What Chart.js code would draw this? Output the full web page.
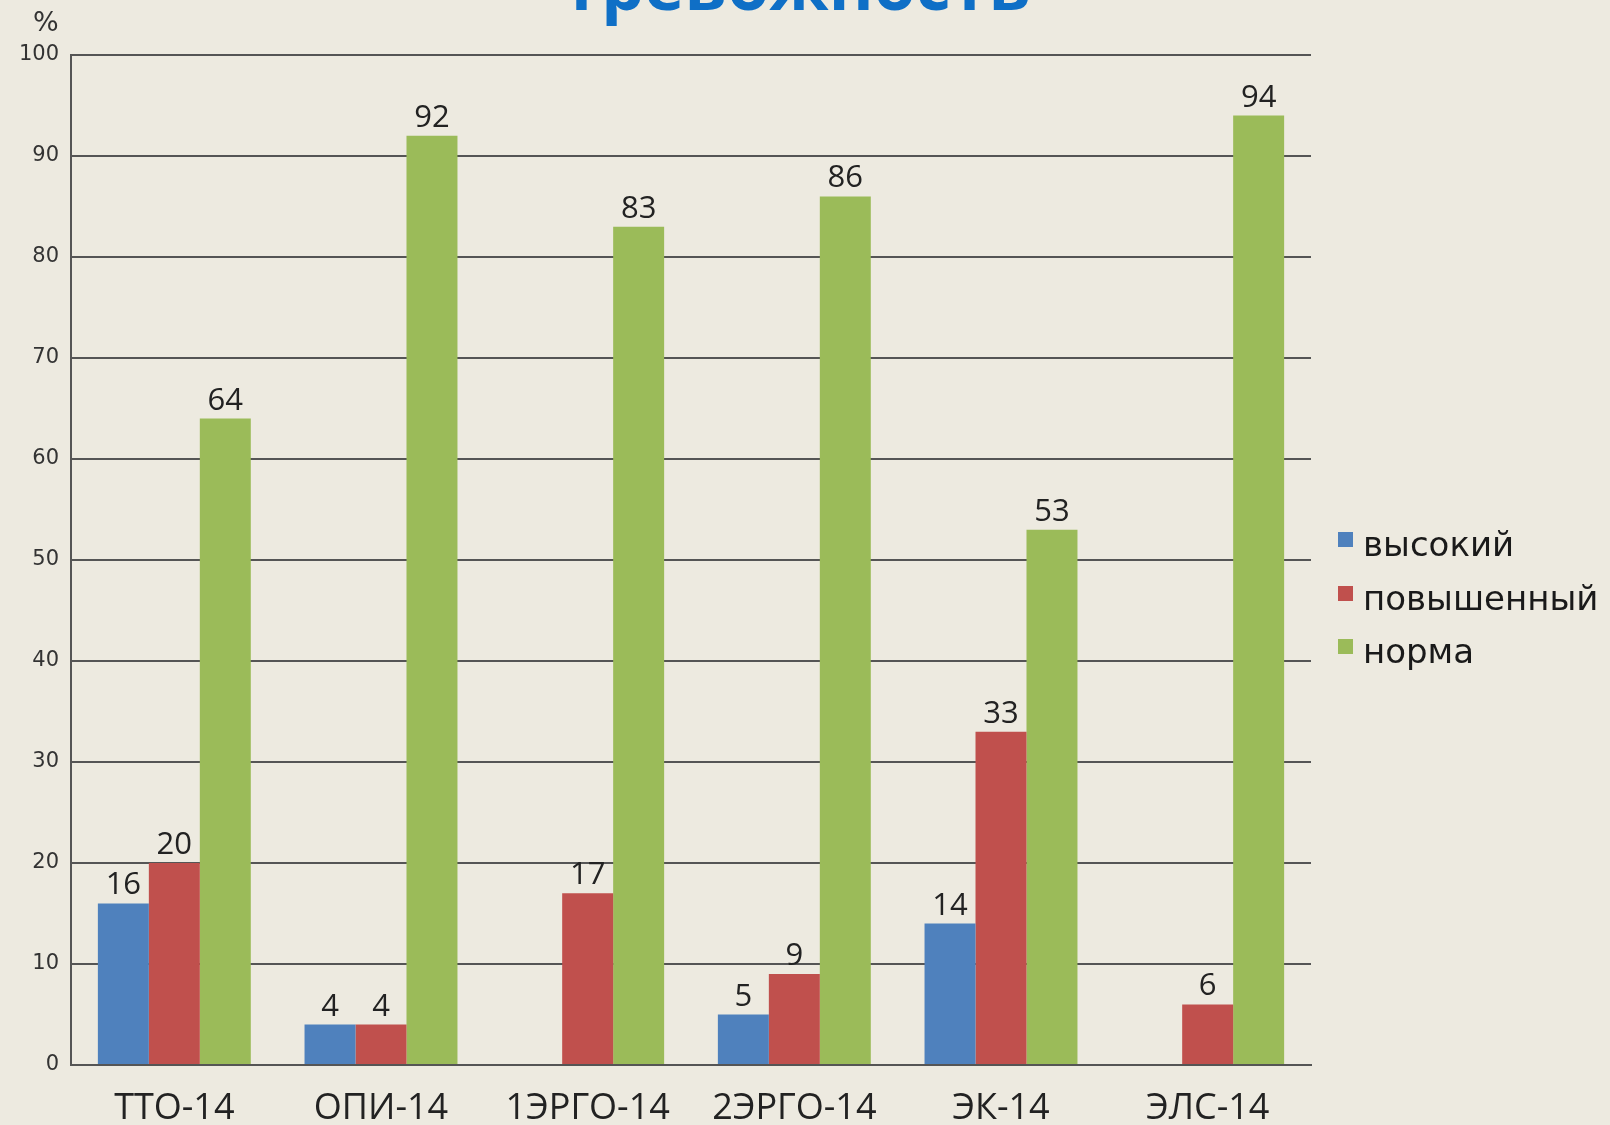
<!DOCTYPE html>
<html>
<head>
<meta charset="utf-8">
<script src="https://cdn.jsdelivr.net/npm/chart.js@4.4.0/dist/chart.umd.min.js"></script>
<style>
  html, body { margin: 0; padding: 0; background: #EDEAE0; overflow: hidden; }
  #wrap { position: relative; width: 1610px; height: 1125px; }
  #title { position: absolute; left: 0; top: -50px; width: 1592px; text-align: center;
           font: bold 68px "Open Sans", sans-serif; line-height: 68px; color: #0F6FC6; }
  #pct { position: absolute; left: 33px; top: 6px; font: 27px "DejaVu Sans", sans-serif; color: #333; }
  canvas { position: absolute; left: 0; top: 0; }
</style>
</head>
<body>
<div id="wrap">
  <canvas id="c" width="1610" height="1125"></canvas>
  <div id="title">Тревожность</div>
  <div id="pct">%</div>
</div>
<script>
const categories = ["ТТО-14", "ОПИ-14", "1ЭРГО-14", "2ЭРГО-14", "ЭК-14", "ЭЛС-14"];
const seriesNames = ["высокий", "повышенный", "норма"];
const vysokiy = [16, 4, null, 5, 14, null];
const povyshenny = [20, 4, 17, 9, 33, 6];
const norma = [64, 92, 83, 86, 53, 94];
const yTicks = [0, 10, 20, 30, 40, 50, 60, 70, 80, 90, 100];
const colors = ["#4F81BD", "#C0504D", "#9BBB59"];

const valueLabels = {
  id: "valueLabels",
  afterDatasetsDraw(chart) {
    const ctx = chart.ctx;
    ctx.save();
    ctx.font = '31px "Open Sans", sans-serif';
    ctx.fillStyle = "#222";
    ctx.textAlign = "center";
    ctx.textBaseline = "alphabetic";
    chart.data.datasets.forEach((ds, i) => {
      const meta = chart.getDatasetMeta(i);
      meta.data.forEach((el, j) => {
        const v = ds.data[j];
        if (v === null || v === undefined) return;
        ctx.fillText(String(v), el.x, el.y - 9);
      });
    });
    ctx.restore();
  }
};

const sideLegend = {
  id: "sideLegend",
  afterDraw(chart) {
    const ctx = chart.ctx;
    ctx.save();
    ctx.font = '34px "DejaVu Sans", sans-serif';
    ctx.textAlign = "left";
    ctx.textBaseline = "alphabetic";
    const baselines = [556, 610, 663];
    chart.data.datasets.forEach((ds, i) => {
      const b = baselines[i];
      ctx.fillStyle = ds.backgroundColor;
      ctx.fillRect(1338, b - 24, 15, 15);
      ctx.fillStyle = "#1a1a1a";
      ctx.fillText(ds.label, 1363, b);
    });
    ctx.restore();
  }
};

new Chart(document.getElementById("c"), {
  type: "bar",
  data: {
    labels: categories,
    datasets: [
      { label: seriesNames[0], data: vysokiy, backgroundColor: colors[0] },
      { label: seriesNames[1], data: povyshenny, backgroundColor: colors[1] },
      { label: seriesNames[2], data: norma, backgroundColor: colors[2] }
    ]
  },
  options: {
    responsive: false,
    animation: false,
    layout: { padding: { top: 55, left: 0, right: 299, bottom: 0 } },
    plugins: { legend: { display: false }, title: { display: false }, tooltip: { enabled: false } },
    datasets: { bar: { categoryPercentage: 0.74, barPercentage: 1.0, borderWidth: 0 } },
    scales: {
      x: {
        grid: { display: false, drawTicks: false },
        border: { display: true, color: "#555", width: 2 },
        ticks: { font: { family: "Open Sans", size: 36 }, color: "#222", padding: 22, maxRotation: 0 },
        afterFit(s) { s.height = 60; }
      },
      y: {
        min: 0, max: 100,
        afterBuildTicks(s) { s.ticks = yTicks.map(v => ({ value: v })); },
        grid: { color: "#555", lineWidth: 2, drawTicks: false },
        border: { display: true, color: "#555", width: 2 },
        ticks: { font: { family: "DejaVu Sans", size: 21 }, color: "#333", padding: 12 },
        afterFit(s) { s.width = 71; }
      }
    }
  },
  plugins: [valueLabels, sideLegend]
});
</script>
</body>
</html>
